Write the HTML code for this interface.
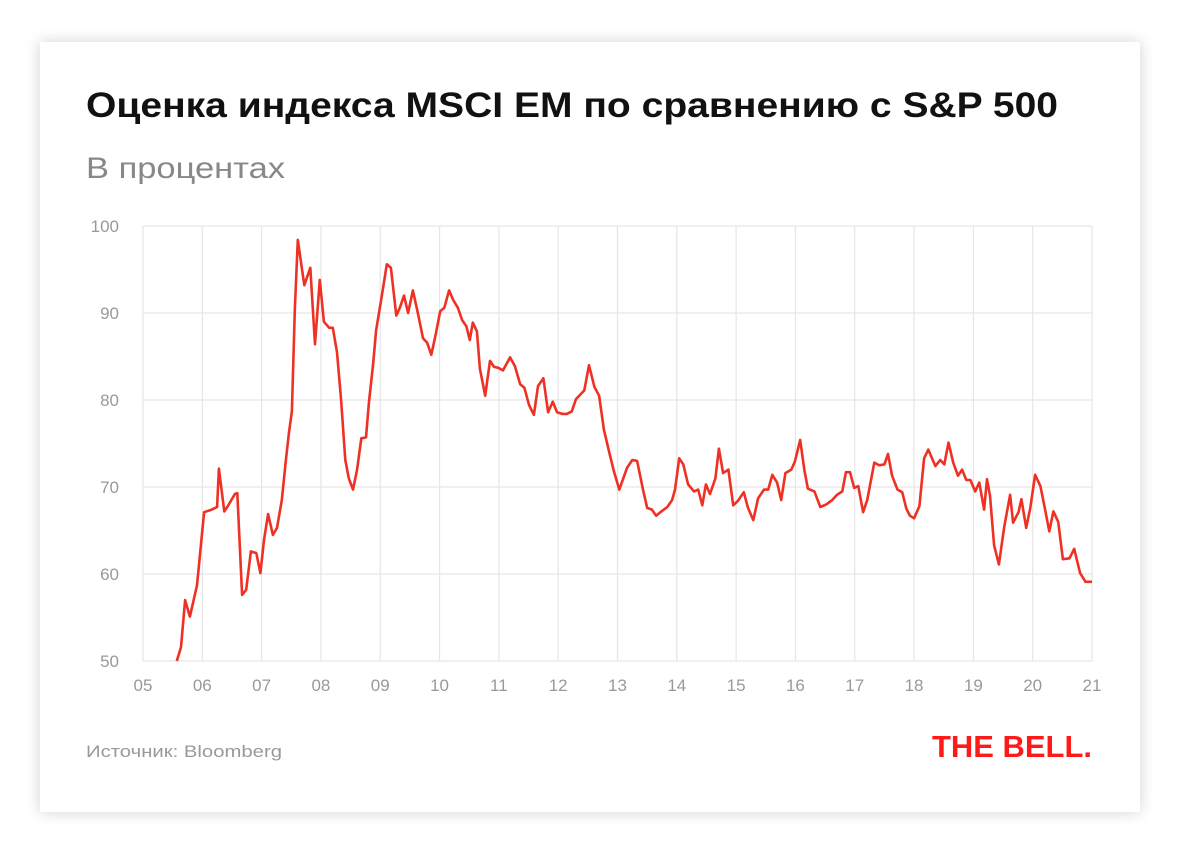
<!DOCTYPE html>
<html><head><meta charset="utf-8">
<style>
html,body{margin:0;padding:0;background:#fff;width:1180px;height:846px;overflow:hidden}
#card{position:absolute;left:40px;top:42px;width:1100px;height:770px;background:#fff;box-shadow:0 0 14px rgba(0,0,0,0.18)}
svg{position:absolute;left:0;top:0}
</style></head>
<body>
<div id="card"></div>
<svg id="chart" width="1180" height="846" font-family="Liberation Sans, DejaVu Sans, sans-serif">
<text x="86" y="117" font-size="35" font-weight="bold" fill="#111" textLength="972" lengthAdjust="spacingAndGlyphs">Оценка индекса MSCI EM по сравнению с S&amp;P 500</text>
<text x="86" y="178" font-size="30" fill="#888" textLength="199" lengthAdjust="spacingAndGlyphs">В процентах</text>
<g id="grid"></g>
<g id="yaxis"></g>
<g id="xaxis"></g>
<path id="line" fill="none" stroke="#ee3124" stroke-width="2.6" stroke-linejoin="round"></path>
<text x="86" y="757" font-size="17" fill="#999" textLength="196" lengthAdjust="spacingAndGlyphs">Источник: Bloomberg</text>
<text x="932" y="757" font-size="31" font-weight="900" fill="#ff1a1a" textLength="160" lengthAdjust="spacingAndGlyphs">THE BELL.</text>
</svg>
<script>
const yTicks=[50,60,70,80,90,100];
const xTickYears=[2005,2006,2007,2008,2009,2010,2011,2012,2013,2014,2015,2016,2017,2018,2019,2020,2021];
const xTickLabels=["05","06","07","08","09","10","11","12","13","14","15","16","17","18","19","20","21"];
const dates=[5.57,5.64,5.71,5.79,5.91,6.03,6.16,6.25,6.28,6.37,6.43,6.55,6.59,6.67,6.74,6.82,6.91,6.98,7.04,7.11,7.19,7.26,7.34,7.41,7.46,7.51,7.56,7.61,7.72,7.82,7.90,7.98,8.05,8.14,8.20,8.27,8.34,8.41,8.47,8.54,8.61,8.68,8.76,8.81,8.88,8.93,9.03,9.11,9.18,9.27,9.33,9.40,9.47,9.55,9.64,9.72,9.79,9.86,9.94,10.01,10.08,10.16,10.23,10.31,10.38,10.45,10.51,10.56,10.63,10.68,10.77,10.85,10.92,10.99,11.07,11.19,11.27,11.36,11.43,11.51,11.59,11.66,11.75,11.83,11.91,11.98,12.07,12.15,12.23,12.30,12.44,12.52,12.61,12.69,12.77,12.86,12.94,13.03,13.16,13.25,13.33,13.43,13.50,13.58,13.65,13.74,13.84,13.92,13.97,14.04,14.11,14.19,14.29,14.36,14.43,14.49,14.56,14.65,14.71,14.78,14.87,14.95,15.03,15.13,15.20,15.29,15.37,15.47,15.54,15.61,15.69,15.76,15.83,15.93,15.99,16.08,16.15,16.21,16.32,16.42,16.52,16.62,16.70,16.79,16.85,16.92,16.99,17.06,17.14,17.21,17.33,17.41,17.50,17.56,17.63,17.72,17.80,17.87,17.93,18.00,18.09,18.17,18.24,18.36,18.44,18.51,18.58,18.66,18.74,18.81,18.88,18.95,19.03,19.10,19.18,19.23,19.28,19.35,19.43,19.52,19.62,19.67,19.76,19.81,19.89,19.96,20.04,20.13,20.21,20.28,20.35,20.43,20.51,20.62,20.70,20.80,20.89,21.00];
const values=[50,51.6,57.0,55.1,58.7,67.1,67.4,67.7,72.1,67.2,67.8,69.2,69.3,57.6,58.2,62.6,62.4,60.1,63.9,66.9,64.5,65.3,68.5,73.1,76.2,78.7,90.3,98.4,93.2,95.2,86.4,93.8,89.0,88.3,88.3,85.5,80.0,73.1,71.0,69.7,72.0,75.6,75.7,79.8,84.1,88.0,92.1,95.6,95.2,89.7,90.6,92.0,90.0,92.6,89.8,87.1,86.6,85.2,87.7,90.2,90.6,92.6,91.5,90.6,89.2,88.5,86.9,88.9,87.9,83.6,80.5,84.5,83.8,83.7,83.4,84.9,83.9,81.8,81.4,79.4,78.3,81.6,82.5,78.6,79.8,78.6,78.4,78.4,78.7,80.1,81.1,84.0,81.5,80.5,76.6,74.0,71.8,69.7,72.2,73.1,73.0,69.7,67.6,67.4,66.7,67.2,67.7,68.5,69.7,73.3,72.6,70.3,69.5,69.7,67.9,70.3,69.2,71.0,74.4,71.6,72.0,67.9,68.4,69.4,67.6,66.2,68.7,69.7,69.7,71.4,70.5,68.5,71.6,72.0,72.9,75.4,72.0,69.8,69.5,67.7,68.0,68.5,69.1,69.5,71.7,71.7,69.9,70.1,67.1,68.5,72.8,72.5,72.6,73.8,71.3,69.7,69.4,67.5,66.7,66.4,67.8,73.3,74.3,72.4,73.1,72.6,75.1,72.8,71.3,72.0,70.8,70.8,69.5,70.5,67.4,70.9,69.0,63.3,61.1,65.4,69.1,65.9,67.1,68.6,65.3,67.6,71.4,70.1,67.4,64.9,67.2,66.0,61.7,61.8,62.9,60.1,59.1,59.1];
const X0=143,X1=1092,Y0=661,Y1=226;
function xs(d){const yr=d<100?2000+d:d;return X0+(yr-2005)/(2021-2005)*(X1-X0);}
function ys(v){return Y0-(v-50)/(100-50)*(Y0-Y1);}
const NS="http://www.w3.org/2000/svg";
const grid=document.getElementById('grid'),ya=document.getElementById('yaxis'),xa=document.getElementById('xaxis');
yTicks.forEach(t=>{
 const l=document.createElementNS(NS,'line');
 l.setAttribute('x1',X0);l.setAttribute('x2',X1);l.setAttribute('y1',ys(t));l.setAttribute('y2',ys(t));
 l.setAttribute('stroke','#e6e6e6');l.setAttribute('stroke-width','1.2');
 
 
 grid.appendChild(l);
 const tx=document.createElementNS(NS,'text');
 tx.setAttribute('x',X0-24);tx.setAttribute('y',ys(t)+6);tx.setAttribute('text-anchor','end');
 tx.setAttribute('font-size','17');tx.setAttribute('fill','#999');tx.textContent=t;
 
 
 ya.appendChild(tx);
});
xTickYears.forEach((yr,i)=>{
 const l=document.createElementNS(NS,'line');
 l.setAttribute('x1',xs(yr));l.setAttribute('x2',xs(yr));l.setAttribute('y1',Y1);l.setAttribute('y2',Y0);
 l.setAttribute('stroke','#e6e6e6');l.setAttribute('stroke-width','1.2');
 
 
 grid.appendChild(l);
 const tx=document.createElementNS(NS,'text');
 tx.setAttribute('x',xs(yr));tx.setAttribute('y',Y0+30);tx.setAttribute('text-anchor','middle');
 tx.setAttribute('font-size','17');tx.setAttribute('fill','#999');tx.textContent=xTickLabels[i];
 
 
 xa.appendChild(tx);
});
let d='';
dates.forEach((dt,i)=>{d+=(i?'L':'M')+xs(dt).toFixed(1)+' '+ys(values[i]).toFixed(1);});
document.getElementById('line').setAttribute('d',d);
</script>
</body></html>
